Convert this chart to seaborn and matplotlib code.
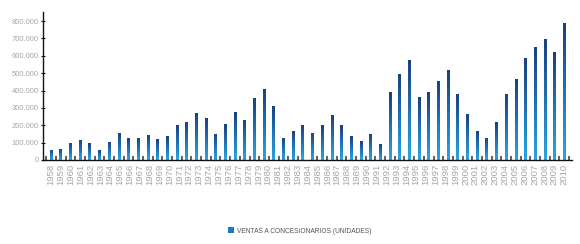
import numpy as np
import pandas as pd
import matplotlib
matplotlib.use("Agg")
import matplotlib.pyplot as plt
import seaborn as sns
from matplotlib.colors import LinearSegmentedColormap
from matplotlib.patches import Patch
from matplotlib.ticker import FixedLocator, FuncFormatter

# ---- data ----
bar_index = list(range(54))
ventas = [58000, 61000, 98000, 117000, 96000, 56000, 106000, 154000, 125000, 125000,
          144000, 119000, 138000, 203000, 221000, 273000, 240000, 152000, 205000, 276000,
          232000, 355000, 407000, 311000, 129000, 169000, 202000, 157000, 200000, 259000,
          200000, 136000, 107000, 150000, 92000, 390000, 493000, 578000, 361000, 390000,
          455000, 516000, 380000, 267000, 169000, 129000, 217000, 382000, 468000, 585000,
          649000, 697000, 624000, 791000]
year_labels = [str(y) for y in range(1958, 2011)]
y_ticks = [0, 100000, 200000, 300000, 400000, 500000, 600000, 700000, 800000]
series_name = "VENTAS A CONCESIONARIOS (UNIDADES)"

sns.set_style("white")
plt.rcParams["font.family"] = ["Liberation Sans", "DejaVu Sans"]

W, H = 580, 244
fig = plt.figure(figsize=(W / 100, H / 100), dpi=100)
ax = fig.add_axes([43 / W, 1 - 160 / H, (572 - 43) / W, (160 - 12) / H])

df = pd.DataFrame({"idx": bar_index, "ventas": ventas})
sns.barplot(data=df, x="idx", y="ventas", color="#2277bb", width=0.27, ax=ax,
            legend=False, linewidth=0)

cmap = LinearSegmentedColormap.from_list("g", ["#2aa6e0", "#1f72b8", "#1b3f7c"])
grad = np.linspace(0, 1, 256).reshape(-1, 1)
for p in list(ax.patches):
    x0, y0 = p.get_x(), p.get_y()
    w, h = p.get_width(), p.get_height()
    im = ax.imshow(grad, extent=[x0, x0 + w, y0, y0 + h], origin="lower", cmap=cmap,
                   aspect="auto", zorder=p.get_zorder() + 0.1, interpolation="bilinear")
    im.set_clip_path(p)

ax.set_xlim(-0.83, 53.8)
ax.set_ylim(0, 852000)

ax.yaxis.set_major_locator(FixedLocator(y_ticks))
ax.yaxis.set_major_formatter(FuncFormatter(lambda v, pos: f"{int(v):,}".replace(",", ".")))
ax.set_xticks(np.linspace(0, 53, 53))
ax.set_xticklabels(year_labels, rotation=90, fontsize=6.8, color="#a6a6a6")
ax.set_xticks(np.arange(-0.5, 54, 1.0), minor=True)
ax.set_xlabel("")
ax.set_ylabel("")

for s in ["top", "right"]:
    ax.spines[s].set_visible(False)
for s in ["left", "bottom"]:
    ax.spines[s].set_color("#111111")
    ax.spines[s].set_linewidth(1.0)

ax.tick_params(axis="y", left=True, length=2.5, width=0.8, color="#111111",
               labelsize=5.5, labelcolor="#a6a6a6", pad=2, direction="inout")
ax.tick_params(axis="x", which="major", bottom=True, length=0, pad=2.5)
ax.tick_params(axis="x", which="minor", bottom=True, direction="in", length=3,
               width=1.1, color="#333333")

handles = [Patch(facecolor="#2277bb", edgecolor="none")]
leg = fig.legend(handles, [series_name], loc="center",
                 bbox_to_anchor=(300 / W, 1 - 231 / H), frameon=False, fontsize=4.8,
                 handlelength=0.9, handleheight=0.9, handletextpad=0.4)
for t in leg.get_texts():
    t.set_color("#555555")

fig.savefig("out.png", dpi=100)
